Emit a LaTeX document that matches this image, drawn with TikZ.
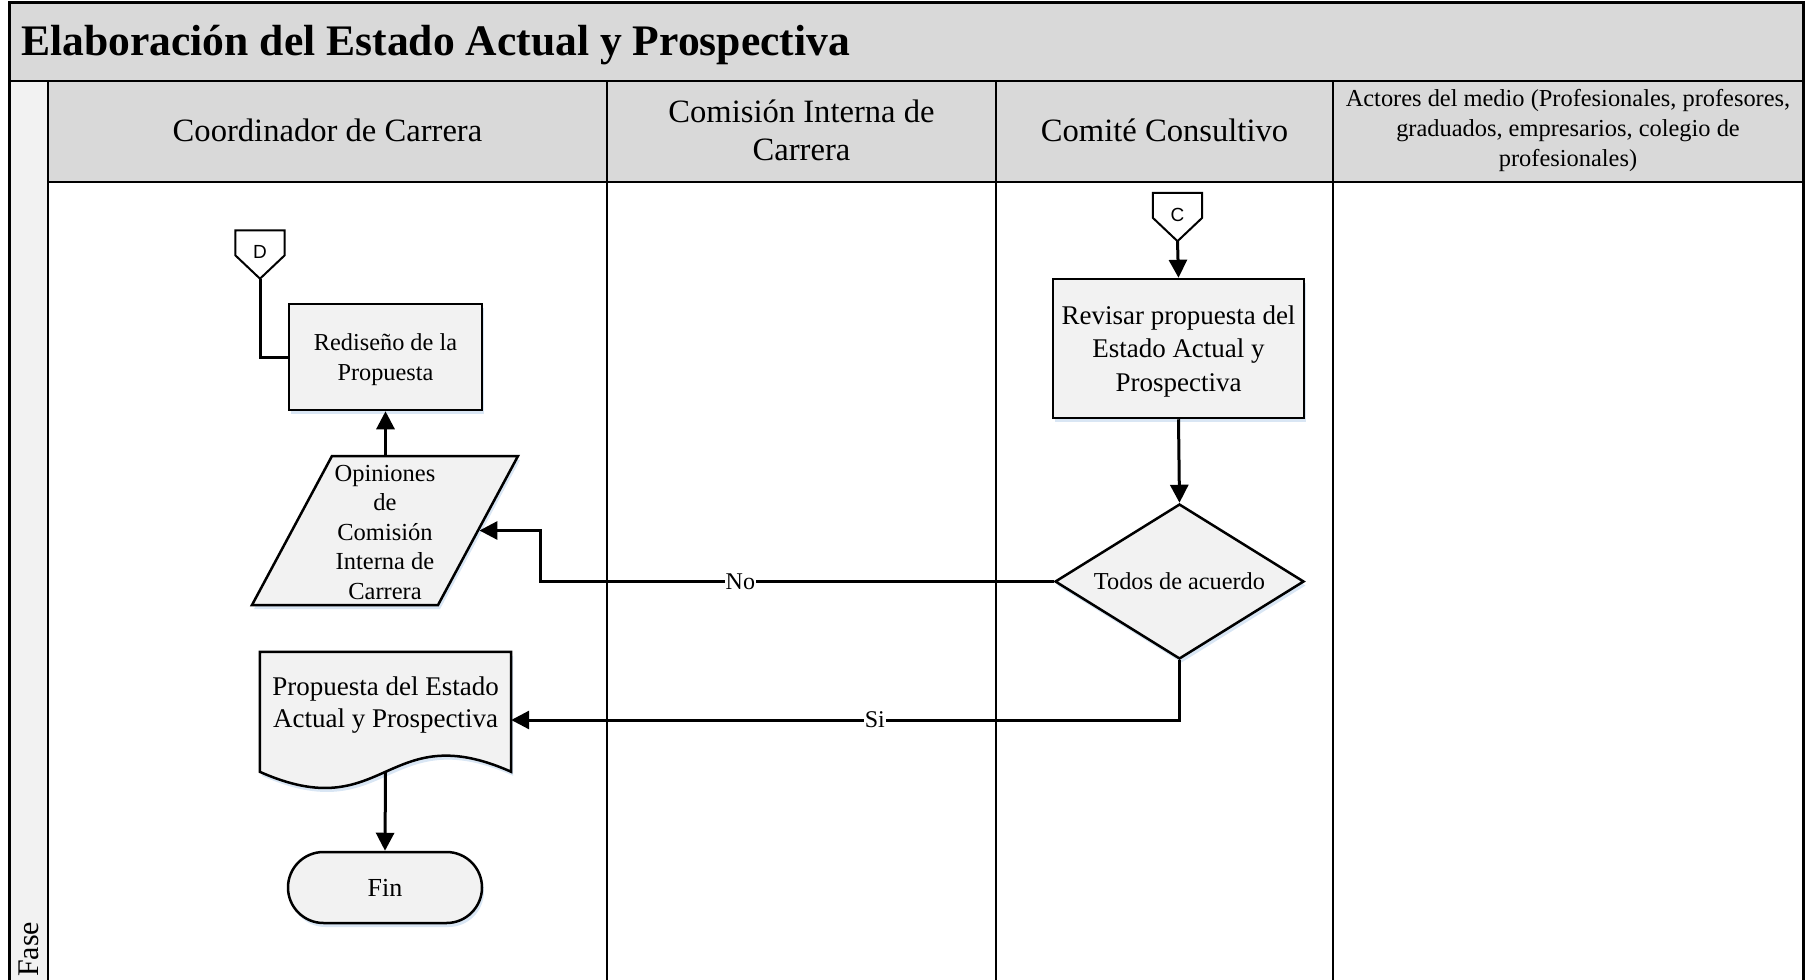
\documentclass[tikz,border=0pt]{standalone}
\usepackage{fontspec}
\setmainfont{Liberation Serif}
\newfontfamily\connfont{Liberation Sans}
\usetikzlibrary{shapes.geometric,shapes.misc,arrows.meta,shadows,backgrounds}
\definecolor{bandgray}{HTML}{D9D9D9}
\definecolor{shapegray}{HTML}{F2F2F2}
\definecolor{shadowblue}{HTML}{C9DCF0}
\newcommand\fsz[2]{\fontsize{#1}{#2}\selectfont}
% taller first line, pushes a text block slightly down inside its shape
\newcommand\lift{\rule{0pt}{\dimexpr0.69em+6pt\relax}}

\begin{document}
\begin{tikzpicture}[x=1pt,y=-1pt,
  every node/.style={inner sep=0pt},
  laneline/.style={line width=2.5pt},
  softshadow/.style={drop shadow={shadow xshift=2pt,shadow yshift=-4pt,fill=shadowblue,opacity=0.7}},
  box/.style={draw,line width=2.5pt,fill=shapegray,align=center,softshadow},
  conn/.style={line width=3pt},
  arr/.style={conn,-{Triangle[length=18pt,width=18pt]}},
  lbl/.style={fill=white,inner sep=1pt,font=\fsz{24}{28}},
  offpage/.style={minimum width=49pt,minimum height=48pt,font=\connfont\fsz{19}{22}},
  hdr/.style={align=center,font=\fsz{32.6}{38}}
]
\useasboundingbox (0,0) rectangle (1805,980);

% swimlane frame
\fill[bandgray] (9,2.5) rectangle (1803,81);
\fill[shapegray] (9,81) rectangle (48,980);
\fill[bandgray] (48,81) rectangle (1803,182);
\draw[line width=3pt] (9,980) -- (9,2.5) -- (1803,2.5) -- (1803,980);
\draw[laneline] (9,81) -- (1803,81);
\draw[laneline] (48,182) -- (1803,182);
\foreach \lx in {48,607,996,1333} \draw[laneline] (\lx,81) -- (\lx,980);

% titles
\node[anchor=west,font=\bfseries\fsz{43.6}{50}] (title) at (21,45) {Elaboración del Estado Actual y Prospectiva};
\node[rotate=90,anchor=west,font=\fsz{30}{34}] (fase) at (28.5,977) {Fase};
\node[hdr] (h1) at (327.5,130.5) {Coordinador de Carrera};
\node[hdr] (h2) at (801.5,130) {Comisión Interna de\\Carrera};
\node[hdr] (h3) at (1164.5,130.5) {Comité Consultivo};
\node[align=center,font=\fsz{24.4}{30}] (h4) at (1568,131) {Actores del medio (Profesionales, profesores,\\graduados, empresarios, colegio de\\profesionales)};

% off-page connectors
\node[offpage] (d) at (260,254.5) {\raisebox{5pt}{D}};
\draw[line width=2pt] (d.north west) -- (d.north east) -- ([yshift=-25pt]d.north east) -- (d.south) -- ([yshift=-25pt]d.north west) -- cycle;
\node[offpage] (c) at (1177.5,217) {\raisebox{5pt}{C}};
\draw[line width=2pt] (c.north west) -- (c.north east) -- ([yshift=-25pt]c.north east) -- (c.south) -- ([yshift=-25pt]c.north west) -- cycle;

% process shapes
\node[box,minimum width=193pt,minimum height=106pt,font=\fsz{24.3}{30}] (red) at (385.5,357) {\lift Rediseño de la\\Propuesta};
\node[box,trapezium,trapezium left angle=60,trapezium right angle=120,trapezium stretches body,
      minimum width=266pt,minimum height=149pt,font=\fsz{24.5}{29.6}] (para) at (385,530.5)
      {\rule{0pt}{\dimexpr0.69em+3pt\relax}Opiniones\\de\\Comisión\\Interna de\\Carrera};
\node[box,minimum width=251pt,minimum height=139pt,font=\fsz{27}{33.4}] (rev) at (1178.5,348.5)
      {\lift Revisar propuesta del\\Estado Actual y\\Prospectiva};
\node[box,diamond,aspect=1.6,minimum width=249pt,minimum height=155pt,font=\fsz{24.3}{29}] (dia) at (1179.5,581.5) {Todos de acuerdo};
\node[align=center,minimum width=251pt,minimum height=136pt,font=\fsz{27}{32}] (doc) at (385.5,720)
      {\lift Propuesta del Estado\\Actual y Prospectiva\\\strut};
\begin{scope}[on background layer]
  \draw[line width=2.5pt,fill=shapegray,softshadow] (doc.north west) -- (doc.north east) -- ([yshift=-120pt]doc.north east)
    .. controls ([yshift=-64pt]doc.north) and ([yshift=-176pt]doc.north) .. ([yshift=-120pt]doc.north west) -- cycle;
\end{scope}
\node[box,rounded rectangle,minimum width=194pt,minimum height=71pt,font=\fsz{26}{30}] (fin) at (385,887.5) {Fin};

% connectors
\coordinate (nox) at (540,0);
\draw[conn] (d.south) |- (red.west);
\draw[arr] (para.north -| red.south) -- (red.south);
\draw[arr] (c.south) -- (rev.north);
\draw[arr] (rev.south) -- (dia.north);
\draw[arr] (dia.west) -- node[lbl,pos=0.61]{No} (dia.west -| nox) |- (para);
\draw[arr] (dia.south) |- node[lbl,pos=0.728]{Si} (doc.east);
\draw[arr] ([yshift=16pt]doc.south) -- (fin.north);
\end{tikzpicture}
\end{document}
